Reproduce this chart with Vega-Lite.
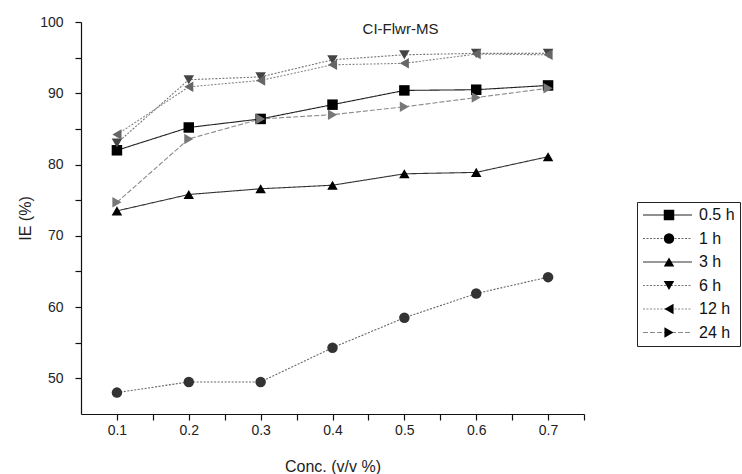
{
  "$schema": "https://vega.github.io/schema/vega-lite/v6.json",
  "width": 503,
  "height": 392,
  "autosize": {"type": "none"},
  "padding": {"left": 81, "top": 22, "right": 158, "bottom": 60},
  "background": "white",
  "config": {
    "view": {"stroke": null},
    "font": "Liberation Sans",
    "axis": {"domainColor": "#111", "tickColor": "#111", "labelColor": "#222", "titleColor": "#222", "labelFont": "Liberation Sans", "titleFont": "Liberation Sans", "grid": false, "titleFontWeight": "normal"}
  },
  "title": {"text": "CI-Flwr-MS", "anchor": "middle", "frame": "group", "dx": 68, "offset": -34, "baseline": "alphabetic", "fontSize": 15, "font": "Liberation Sans", "fontWeight": "normal", "color": "#222"},
  "data": {"values": [
    {"c": 0.1, "ie": 82.0, "s": "0.5 h"}, {"c": 0.2, "ie": 85.2, "s": "0.5 h"}, {"c": 0.3, "ie": 86.4, "s": "0.5 h"}, {"c": 0.4, "ie": 88.4, "s": "0.5 h"}, {"c": 0.5, "ie": 90.4, "s": "0.5 h"}, {"c": 0.6, "ie": 90.5, "s": "0.5 h"}, {"c": 0.7, "ie": 91.1, "s": "0.5 h"},
    {"c": 0.1, "ie": 48.0, "s": "1 h"}, {"c": 0.2, "ie": 49.5, "s": "1 h"}, {"c": 0.3, "ie": 49.5, "s": "1 h"}, {"c": 0.4, "ie": 54.3, "s": "1 h"}, {"c": 0.5, "ie": 58.5, "s": "1 h"}, {"c": 0.6, "ie": 61.9, "s": "1 h"}, {"c": 0.7, "ie": 64.2, "s": "1 h"},
    {"c": 0.1, "ie": 73.5, "s": "3 h"}, {"c": 0.2, "ie": 75.8, "s": "3 h"}, {"c": 0.3, "ie": 76.6, "s": "3 h"}, {"c": 0.4, "ie": 77.1, "s": "3 h"}, {"c": 0.5, "ie": 78.7, "s": "3 h"}, {"c": 0.6, "ie": 78.9, "s": "3 h"}, {"c": 0.7, "ie": 81.1, "s": "3 h"},
    {"c": 0.1, "ie": 83.0, "s": "6 h"}, {"c": 0.2, "ie": 91.9, "s": "6 h"}, {"c": 0.3, "ie": 92.3, "s": "6 h"}, {"c": 0.4, "ie": 94.7, "s": "6 h"}, {"c": 0.5, "ie": 95.4, "s": "6 h"}, {"c": 0.6, "ie": 95.6, "s": "6 h"}, {"c": 0.7, "ie": 95.6, "s": "6 h"},
    {"c": 0.1, "ie": 84.2, "s": "12 h"}, {"c": 0.2, "ie": 90.9, "s": "12 h"}, {"c": 0.3, "ie": 91.8, "s": "12 h"}, {"c": 0.4, "ie": 94.0, "s": "12 h"}, {"c": 0.5, "ie": 94.2, "s": "12 h"}, {"c": 0.6, "ie": 95.5, "s": "12 h"}, {"c": 0.7, "ie": 95.4, "s": "12 h"},
    {"c": 0.1, "ie": 74.7, "s": "24 h"}, {"c": 0.2, "ie": 83.6, "s": "24 h"}, {"c": 0.3, "ie": 86.4, "s": "24 h"}, {"c": 0.4, "ie": 87.0, "s": "24 h"}, {"c": 0.5, "ie": 88.1, "s": "24 h"}, {"c": 0.6, "ie": 89.4, "s": "24 h"}, {"c": 0.7, "ie": 90.7, "s": "24 h"}
  ]},
  "encoding": {
    "x": {"field": "c", "type": "quantitative",
      "scale": {"domain": [0.05, 0.75], "nice": false, "zero": false},
      "axis": {"title": "Conc. (v/v %)", "values": [0.1, 0.15, 0.2, 0.25, 0.3, 0.35, 0.4, 0.45, 0.5, 0.55, 0.6, 0.65, 0.7, 0.75],
        "labelExpr": "round(datum.value*100) % 10 == 0 ? format(datum.value, '.1f') : ''",
        "tickSize": 6, "labelFontSize": 14, "labelPadding": 3, "titleFontSize": 16, "titlePadding": 21, "domainWidth": 1.2, "tickWidth": 1.2, "labelFlush": false}},
    "y": {"field": "ie", "type": "quantitative",
      "scale": {"domain": [45, 100], "nice": false, "zero": false},
      "axis": {"title": "IE (%)", "values": [50, 55, 60, 65, 70, 75, 80, 85, 90, 95, 100],
        "labelExpr": "datum.value % 10 == 0 ? datum.label : ''",
        "tickSize": 6, "labelFontSize": 14, "labelPadding": 12, "titleFontSize": 16, "titlePadding": 6, "domainWidth": 1.2, "tickWidth": 1.2, "labelFlush": false}}
  },
  "layer": [
    {
      "mark": {"type": "line", "strokeWidth": 1.1},
      "encoding": {
        "stroke": {"field": "s", "type": "nominal",
          "scale": {"domain": ["0.5 h", "1 h", "3 h", "6 h", "12 h", "24 h"], "range": ["#222222", "#666666", "#333333", "#777777", "#888888", "#8a8a8a"]},
          "legend": {"orient": "none", "legendX": 556, "legendY": 180, "title": null, "symbolType": "stroke", "symbolSize": 2401, "symbolStrokeWidth": 1.2, "labelFontSize": 16, "labelFont": "Liberation Sans", "labelColor": "#111", "labelOffset": 6, "padding": 5, "strokeColor": "#222", "rowPadding": 7.5, "clipHeight": 16}},
        "strokeDash": {"field": "s", "type": "nominal",
          "scale": {"domain": ["0.5 h", "1 h", "3 h", "6 h", "12 h", "24 h"], "range": [[1, 0], [2, 1.5], [1, 0], [2, 1.5], [2, 1.5], [5, 2]]}}
      }
    },
    {
      "mark": {"type": "point", "filled": true, "size": 110, "strokeWidth": 0, "opacity": 1},
      "encoding": {
        "fill": {"field": "s", "type": "nominal", "sort": ["0.5 h", "1 h", "3 h", "6 h", "12 h", "24 h"],
          "scale": {"range": ["#000000", "#333333", "#000000", "#444444", "#666666", "#777777"]},
          "legend": null},
        "shape": {"field": "s", "type": "nominal", "sort": ["0.5 h", "1 h", "3 h", "6 h", "12 h", "24 h"],
          "scale": {"range": ["square", "circle", "triangle-up", "triangle-down", "triangle-left", "triangle-right"]},
          "legend": {"orient": "none", "legendX": 575, "legendY": 180, "title": null, "symbolSize": 110, "symbolStrokeWidth": 0, "labelFontSize": 16, "labelExpr": "''", "padding": 5, "rowPadding": 7.5, "clipHeight": 16,
            "encode": {"symbols": {"update": {"fill": {"signal": "datum.value == '0.5 h' || datum.value == '3 h' ? '#000000' : (datum.value == '1 h' || datum.value == '6 h' ? '#333333' : '#6a6a6a')"}}}}}}
      }
    }
  ]
}
